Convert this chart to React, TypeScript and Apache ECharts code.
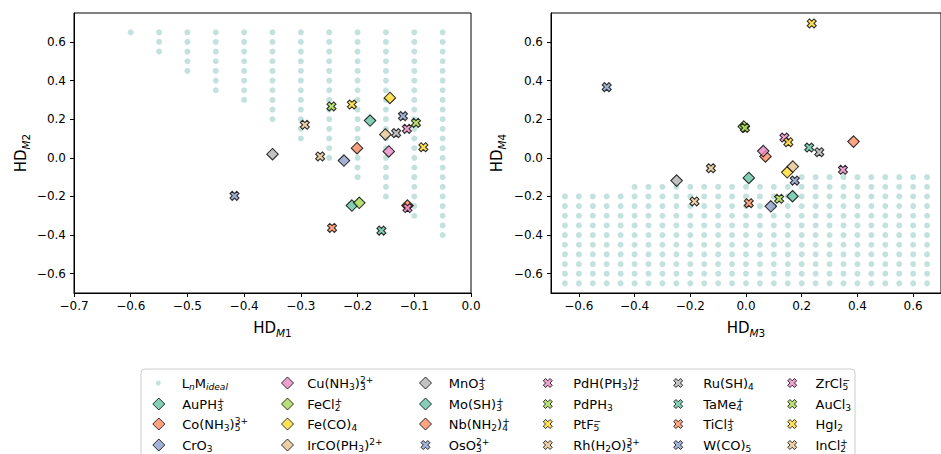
import { useEffect, useRef } from 'react';
import * as echarts from 'echarts';

// ---------------- data ----------------
// Ideal grid (left panel): columns and their lowest row
const leftIdealColX = [-0.6, -0.55, -0.5, -0.45, -0.4, -0.35, -0.3, -0.25, -0.2, -0.15, -0.1, -0.05];
const leftIdealColBottom = [0.65, 0.55, 0.45, 0.35, 0.3, 0.2, 0.1, 0.0, -0.1, -0.2, -0.3, -0.4];
const leftIdealRowY = [0.65, 0.6, 0.55, 0.5, 0.45, 0.4, 0.35, 0.3, 0.25, 0.2, 0.15, 0.1, 0.05, 0.0,
  -0.05, -0.1, -0.15, -0.2, -0.25, -0.3, -0.35, -0.4];

// Ideal grid (right panel): columns and their highest row
const rightIdealColX = [-0.65, -0.6, -0.55, -0.5, -0.45, -0.4, -0.35, -0.3, -0.25, -0.2, -0.15, -0.1, -0.05, 0.0,
  0.05, 0.1, 0.15, 0.2, 0.25, 0.3, 0.35, 0.4, 0.45, 0.5, 0.55, 0.6, 0.65];
const rightIdealColTop = [-0.2, -0.2, -0.2, -0.2, -0.2, -0.15, -0.15, -0.15, -0.15, -0.15, -0.15, -0.15, -0.15, -0.15,
  -0.15, -0.15, -0.15, -0.1, -0.1, -0.1, -0.1, -0.1, -0.1, -0.1, -0.1, -0.1, -0.1];
const rightIdealRowY = [-0.1, -0.15, -0.2, -0.25, -0.3, -0.35, -0.4, -0.45, -0.5, -0.55, -0.6, -0.65];

const complexNames = ['AuPH3+', 'Co(NH3)5 3+', 'CrO3', 'Cu(NH3)3 2+', 'FeCl2+', 'Fe(CO)4', 'IrCO(PH3)2+', 'MnO3+',
  'Mo(SH)3+', 'Nb(NH2)4+', 'OsO3 2+', 'PdH(PH3)2+', 'PdPH3', 'PtF5-', 'Rh(H2O)5 3+', 'Ru(SH)4', 'TaMe4+',
  'TiCl3+', 'W(CO)5', 'ZrCl5-', 'AuCl3', 'HgI2', 'InCl2+'];
const complexMarker = ['d', 'd', 'd', 'd', 'd', 'd', 'd', 'd', 'd', 'd',
  'x', 'x', 'x', 'x', 'x', 'x', 'x', 'x', 'x', 'x', 'x', 'x', 'x'];

const hdM1 = [-0.21, -0.201, -0.224, -0.145, -0.197, -0.143, -0.151, -0.35, -0.178, -0.112,
  -0.417, -0.113, -0.246, -0.21, -0.293, -0.132, -0.158, -0.245, -0.12, -0.112, -0.097, -0.084, -0.266];
const hdM2 = [-0.247, 0.05, -0.014, 0.033, -0.233, 0.31, 0.121, 0.019, 0.193, -0.247,
  -0.197, 0.15, 0.266, 0.276, 0.171, 0.128, -0.377, -0.363, 0.216, -0.26, 0.181, 0.055, 0.007];
const hdM3 = [0.167, 0.07, 0.089, 0.062, -0.008, 0.148, 0.168, -0.249, 0.01, 0.386,
  -0.5, 0.138, -0.004, 0.236, -0.126, 0.263, 0.227, 0.01, 0.175, 0.348, 0.119, 0.152, -0.185];
const hdM4 = [-0.199, 0.007, -0.251, 0.035, 0.162, -0.075, -0.045, -0.118, -0.104, 0.084,
  0.366, 0.105, 0.155, 0.696, -0.054, 0.029, 0.053, -0.235, -0.118, -0.062, -0.212, 0.081, -0.226];

const tickValuesM1 = [-0.7, -0.6, -0.5, -0.4, -0.3, -0.2, -0.1, 0.0];
const tickValuesM3 = [-0.6, -0.4, -0.2, 0.0, 0.2, 0.4, 0.6];
const tickValuesY = [-0.6, -0.4, -0.2, 0.0, 0.2, 0.4, 0.6];

const IDEAL = 'LnM_ideal';
const legendText: Record<string, string> = {
  [IDEAL]: 'L{si|n}M{si|ideal}',
  'AuPH3+': 'AuPH{s0|3}{p|+}',
  'Co(NH3)5 3+': 'Co(NH{s|3}){s0|5}{p|3+}',
  'CrO3': 'CrO{s|3}',
  'Cu(NH3)3 2+': 'Cu(NH{s|3}){s0|3}{p|2+}',
  'FeCl2+': 'FeCl{s0|2}{p|+}',
  'Fe(CO)4': 'Fe(CO){s|4}',
  'IrCO(PH3)2+': 'IrCO(PH{s|3}){p|2+}',
  'MnO3+': 'MnO{s0|3}{p|+}',
  'Mo(SH)3+': 'Mo(SH){s0|3}{p|+}',
  'Nb(NH2)4+': 'Nb(NH{s|2}){s0|4}{p|+}',
  'OsO3 2+': 'OsO{s0|3}{p|2+}',
  'PdH(PH3)2+': 'PdH(PH{s|3}){s0|2}{p|+}',
  'PdPH3': 'PdPH{s|3}',
  'PtF5-': 'PtF{s0|5}{p|\u2212}',
  'Rh(H2O)5 3+': 'Rh(H{s|2}O){s0|5}{p|3+}',
  'Ru(SH)4': 'Ru(SH){s|4}',
  'TaMe4+': 'TaMe{s0|4}{p|+}',
  'TiCl3+': 'TiCl{s0|3}{p|+}',
  'W(CO)5': 'W(CO){s|5}',
  'ZrCl5-': 'ZrCl{s0|5}{p|\u2212}',
  'AuCl3': 'AuCl{s|3}',
  'HgI2': 'HgI{s|2}',
  'InCl2+': 'InCl{s0|2}{p|+}',
};

// ---------------- styles ----------------
const FONT = 'DejaVu Sans';
const SET2 = ['#66c2a5', '#fc8d62', '#8da0cb', '#e78ac3', '#a6d854', '#ffd92f', '#e5c494', '#b3b3b3'];
const IDEAL_COLOR = '#b4dbd6';
const DIAMOND = 'path://M1,0L2,1L1,2L0,1Z';
const XMARK = 'path://M3,0L4,1L3,2L4,3L3,4L2,3L1,4L0,3L1,2L0,1L1,0L2,1Z';
const GRID_LEFT = [74, 551];
const GRID_TOP = 13;
const GRID_H = 280;
const GRID_W = [397, 398];

const legendColCenter = [158.3, 287, 425, 547.3, 677.7, 791.7];
const legendColText = [181.7, 306.7, 448.3, 572.7, 702.7, 815];
const legendRowY = [383, 404, 424, 445];
const LEG_LH = 17;

function idealPoints(colX: number[], rows: number[], lo: number[] | null, hi: number[] | null) {
  const pts: number[][] = [];
  colX.forEach((x, i) => {
    rows.forEach((y) => {
      const okLo = lo ? y >= lo[i] - 1e-9 : true;
      const okHi = hi ? y <= hi[i] + 1e-9 : true;
      if (okLo && okHi) pts.push([x, y]);
    });
  });
  return pts;
}

const fmt = (v: number) => {
  const r = Math.round(v * 10) / 10;
  return (r < -1e-9 ? '\u2212' : '') + Math.abs(r).toFixed(1);
};

function axisNameStyle() {
  return {
    fontFamily: FONT, fontSize: 15, color: '#000', lineHeight: 20,
    rich: {
      a: { fontFamily: FONT, fontSize: 15, color: '#000', lineHeight: 20 },
      b: { fontFamily: FONT, fontSize: 10.5, fontStyle: 'italic', color: '#000', verticalAlign: 'bottom', height: 10, lineHeight: 20 },
      c: { fontFamily: FONT, fontSize: 10.5, color: '#000', verticalAlign: 'bottom', height: 10, lineHeight: 20 },
    },
  };
}
function xAxisCfg(idx: number, min: number, max: number, ticks: number[], sub: string) {
  return {
    type: 'value', gridIndex: idx, min, max,
    axisLine: { show: true, onZero: false, lineStyle: { color: '#000', width: 1 } },
    axisTick: { show: true, inside: false, length: 4, customValues: ticks, lineStyle: { color: '#000' } },
    axisLabel: { customValues: ticks, formatter: fmt, fontFamily: FONT, fontSize: 12, color: '#000', margin: 7 },
    splitLine: { show: false },
    name: `{a|HD}{b|M}{c|${sub}}`,
    nameLocation: 'middle', nameGap: 25,
    nameTextStyle: axisNameStyle(),
  };
}
function yAxisCfg(idx: number, sub: string, gap: number) {
  return {
    type: 'value', gridIndex: idx, min: -0.7, max: 0.75,
    axisLine: { show: true, onZero: false, lineStyle: { color: '#000', width: 1 } },
    axisTick: { show: true, inside: false, length: 4, customValues: tickValuesY, lineStyle: { color: '#000' } },
    axisLabel: { customValues: tickValuesY, formatter: fmt, fontFamily: FONT, fontSize: 12, color: '#000', margin: 8 },
    splitLine: { show: false },
    name: `{a|HD}{b|M}{c|${sub}}`,
    nameLocation: 'middle', nameGap: gap, nameRotate: 90,
    nameTextStyle: axisNameStyle(),
  };
}

const SUB = 9.1;
const legendRich = {
  s: { fontFamily: FONT, fontSize: SUB, color: '#000', verticalAlign: 'bottom', height: 10, lineHeight: LEG_LH },
  s0: { fontFamily: FONT, fontSize: SUB, color: '#000', verticalAlign: 'bottom', height: 9, lineHeight: LEG_LH, width: 0 },
  p: { fontFamily: FONT, fontSize: SUB, color: '#000', verticalAlign: 'top', height: 10, lineHeight: LEG_LH },
  si: { fontFamily: FONT, fontSize: SUB, fontStyle: 'italic', color: '#000', verticalAlign: 'bottom', height: 10, lineHeight: LEG_LH },
};

function buildOption() {
  const series: any[] = [];
  series.push({
    type: 'scatter', name: IDEAL, xAxisIndex: 0, yAxisIndex: 0, symbol: 'circle', symbolSize: 6,
    itemStyle: { color: IDEAL_COLOR }, data: idealPoints(leftIdealColX, leftIdealRowY, leftIdealColBottom, null),
  });
  series.push({
    type: 'scatter', name: IDEAL, xAxisIndex: 1, yAxisIndex: 1, symbol: 'circle', symbolSize: 6,
    itemStyle: { color: IDEAL_COLOR }, data: idealPoints(rightIdealColX, rightIdealRowY, null, rightIdealColTop),
  });
  complexNames.forEach((name, i) => {
    const isD = complexMarker[i] === 'd';
    const common = {
      type: 'scatter', name, symbol: isD ? DIAMOND : XMARK, symbolSize: isD ? 11.5 : 9,
      itemStyle: { color: SET2[i % 8], borderColor: '#000', borderWidth: 1.1 },
    };
    series.push({ ...common, xAxisIndex: 0, yAxisIndex: 0, data: [[hdM1[i], hdM2[i]]] });
    series.push({ ...common, xAxisIndex: 1, yAxisIndex: 1, data: [[hdM3[i], hdM4[i]]] });
  });

  const allNames = [IDEAL, ...complexNames];
  const legends = allNames.map((name, k) => {
    const col = Math.floor(k / 4);
    const row = k % 4;
    const c = legendColCenter[col];
    const t = legendColText[col];
    const itemWidth = 2 * (t - 5 - c);
    const isIdeal = k === 0;
    const isD = !isIdeal && complexMarker[k - 1] === 'd';
    const iconSize = isIdeal ? 5 : isD ? 12 : 9;
    return {
      data: [{ name, icon: isIdeal ? 'circle' : isD ? DIAMOND : XMARK }],
      left: c - iconSize / 2, top: legendRowY[row] - LEG_LH / 2,
      orient: 'vertical', padding: 0, itemGap: 0,
      itemWidth, itemHeight: iconSize, selectedMode: false,
      itemStyle: isIdeal ? { borderWidth: 0 } : { borderColor: '#000', borderWidth: 1 },
      formatter: (n: string) => legendText[n],
      textStyle: { fontFamily: FONT, fontSize: 13, color: '#000', lineHeight: LEG_LH, rich: legendRich },
    };
  });

  return {
    animation: false,
    backgroundColor: '#fff',
    grid: [0, 1].map((g) => ({
      left: GRID_LEFT[g], top: GRID_TOP, width: GRID_W[g], height: GRID_H,
      show: true, borderColor: '#000', borderWidth: 1, backgroundColor: 'transparent',
    })),
    xAxis: [
      xAxisCfg(0, -0.7, 0.0, tickValuesM1, '1'),
      xAxisCfg(1, -0.7, 0.7, tickValuesM3, '3'),
    ],
    yAxis: [yAxisCfg(0, '2', 43), yAxisCfg(1, '4', 44)],
    legend: legends,
    graphic: [{
      type: 'rect', z: 0, silent: true,
      shape: { x: 141, y: 369, width: 714, height: 110, r: 4 },
      style: { fill: '#fff', stroke: '#cccccc', lineWidth: 1 },
    }],
    series,
  };
}

export default function App() {
  const ref = useRef<HTMLDivElement>(null);
  useEffect(() => {
    const chart = echarts.init(ref.current!, null, { renderer: 'svg' });
    chart.setOption(buildOption() as any);
    return () => chart.dispose();
  }, []);
  return <div ref={ref} style={{ position: 'fixed', left: 0, top: 0, width: 941, height: 454 }} />;
}
